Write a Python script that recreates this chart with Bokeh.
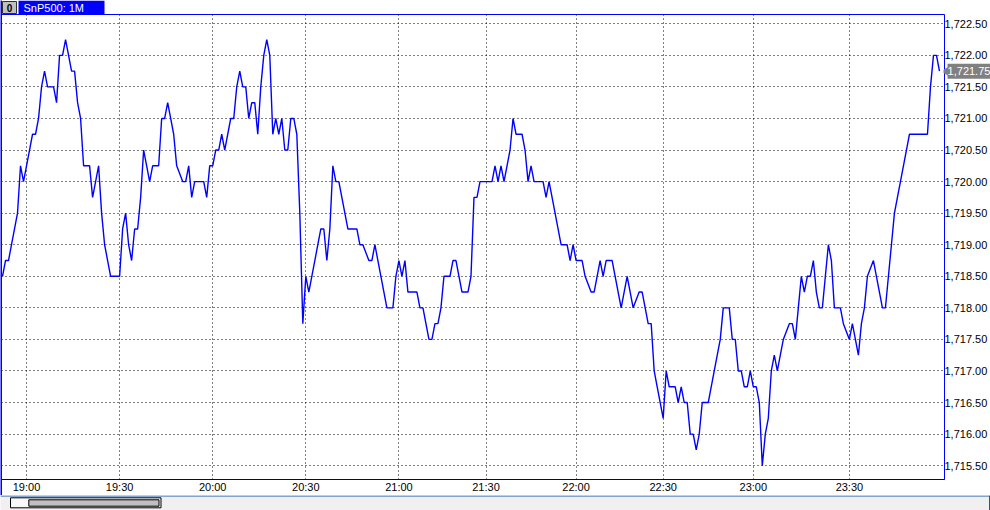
from bokeh.plotting import figure
from bokeh.models import FixedTicker, NumeralTickFormatter, Range1d
from bokeh.embed import file_html
from bokeh.resources import INLINE
from bokeh.core.properties import value

# ---------------- data (1-minute closes, bar index -> price) ----------------
bars = [
    0, 1, 2, 3, 4, 5, 6, 7, 8, 9,
    10, 11, 12, 13, 14, 15, 17, 18, 19, 20,
    21, 22, 23, 24, 25, 26, 27, 29, 30, 31,
    32, 33, 34, 35, 36, 39, 40, 41, 42, 43,
    44, 45, 46, 47, 48, 49, 50, 52, 53, 54,
    55, 56, 57, 58, 60, 61, 62, 63, 64, 67,
    68, 69, 70, 71, 72, 73, 74, 75, 76, 77,
    78, 79, 80, 81, 82, 83, 84, 85, 86, 87,
    88, 89, 90, 91, 92, 93, 94, 95, 96, 97,
    98, 99, 100, 101, 102, 103, 104, 105, 106, 107,
    108, 109, 110, 111, 112, 113, 114, 115, 118, 119,
    120, 122, 123, 124, 125, 127, 128, 130, 131, 132,
    133, 134, 135, 138, 139, 140, 141, 142, 143, 144,
    145, 146, 147, 149, 150, 151, 152, 153, 155, 156,
    157, 158, 159, 163, 164, 165, 166, 167, 168, 169,
    170, 171, 173, 174, 175, 176, 177, 180, 181, 182,
    183, 184, 185, 186, 188, 189, 190, 191, 193, 194,
    196, 197, 198, 199, 200, 201, 203, 204, 205, 206,
    207, 208, 209, 210, 212, 213, 214, 215, 216, 217,
    218, 219, 220, 221, 222, 224, 225, 226, 227, 228,
    229, 230, 231, 232, 233, 235, 237, 238, 239, 240,
    242, 243, 244, 245, 246, 247, 248, 249, 250, 251,
    252, 253, 254, 255, 256, 257, 258, 259, 260, 262,
    263, 264, 265, 266, 267, 268, 269, 270, 271, 272,
    273, 274, 275, 276, 277, 279, 280, 282, 283, 284,
    285, 286, 287, 288, 290, 291, 292, 293, 294, 295,
    296, 297, 298, 299, 300, 301, 302, 308, 309, 310,
    311, 312,
]
closes = [
    1718.5, 1718.75, 1718.75, 1719.0, 1719.25, 1719.5, 1720.25, 1720.0, 1720.25, 1720.5,
    1720.75, 1720.75, 1721.0, 1721.5, 1721.75, 1721.5, 1721.5, 1721.25, 1722.0, 1722.0,
    1722.25, 1722.0, 1721.75, 1721.75, 1721.25, 1721.0, 1720.25, 1720.25, 1719.75, 1720.0,
    1720.25, 1719.5, 1719.0, 1718.75, 1718.5, 1718.5, 1719.25, 1719.5, 1719.0, 1718.75,
    1719.25, 1719.25, 1719.75, 1720.5, 1720.25, 1720.0, 1720.25, 1720.25, 1721.0, 1721.0,
    1721.25, 1721.0, 1720.75, 1720.25, 1720.0, 1720.0, 1720.25, 1719.75, 1720.0, 1720.0,
    1719.75, 1720.25, 1720.25, 1720.5, 1720.5, 1720.75, 1720.5, 1720.75, 1721.0, 1721.0,
    1721.5, 1721.75, 1721.5, 1721.5, 1721.0, 1721.25, 1721.25, 1720.75, 1721.5, 1722.0,
    1722.25, 1722.0, 1720.75, 1721.0, 1720.75, 1721.0, 1720.5, 1720.5, 1721.0, 1721.0,
    1720.75, 1719.5, 1717.75, 1718.5, 1718.25, 1718.5, 1718.75, 1719.0, 1719.25, 1719.25,
    1718.75, 1719.25, 1720.25, 1720.0, 1720.0, 1719.75, 1719.5, 1719.25, 1719.25, 1719.0,
    1719.0, 1718.75, 1718.75, 1719.0, 1718.75, 1718.25, 1718.0, 1718.0, 1718.5, 1718.75,
    1718.5, 1718.75, 1718.25, 1718.25, 1718.0, 1718.0, 1717.75, 1717.5, 1717.5, 1717.75,
    1717.75, 1718.0, 1718.5, 1718.5, 1718.75, 1718.75, 1718.5, 1718.25, 1718.25, 1718.5,
    1719.75, 1719.75, 1720.0, 1720.0, 1720.25, 1720.0, 1720.25, 1720.0, 1720.25, 1720.5,
    1721.0, 1720.75, 1720.75, 1720.5, 1720.0, 1720.25, 1720.0, 1720.0, 1719.75, 1720.0,
    1719.75, 1719.5, 1719.25, 1719.0, 1719.0, 1718.75, 1719.0, 1718.75, 1718.75, 1718.5,
    1718.25, 1718.25, 1718.5, 1718.75, 1718.5, 1718.75, 1718.75, 1718.5, 1718.25, 1718.0,
    1718.25, 1718.5, 1718.25, 1718.0, 1718.25, 1718.25, 1718.0, 1717.75, 1717.75, 1717.0,
    1716.75, 1716.5, 1716.25, 1717.0, 1716.75, 1716.75, 1716.5, 1716.75, 1716.5, 1716.5,
    1716.0, 1716.0, 1715.75, 1716.0, 1716.5, 1716.5, 1717.0, 1717.25, 1717.5, 1718.0,
    1718.0, 1717.5, 1717.5, 1717.0, 1717.0, 1716.75, 1716.75, 1717.0, 1716.75, 1716.75,
    1716.5, 1715.5, 1716.0, 1716.25, 1717.0, 1717.25, 1717.0, 1717.25, 1717.5, 1717.75,
    1717.75, 1717.5, 1718.0, 1718.5, 1718.25, 1718.5, 1718.5, 1718.75, 1718.25, 1718.0,
    1718.0, 1718.5, 1719.0, 1718.75, 1718.0, 1718.0, 1717.75, 1717.5, 1717.75, 1717.5,
    1717.25, 1717.75, 1718.0, 1718.5, 1718.75, 1718.5, 1718.25, 1718.0, 1718.0, 1718.5,
    1719.0, 1719.5, 1719.75, 1720.0, 1720.25, 1720.5, 1720.75, 1720.75, 1721.5, 1722.0,
    1722.0, 1721.75,
]
tick_bars = [8, 39, 70, 101, 132, 161, 191, 220, 250, 282]
tick_labels = ["19:00", "19:30", "20:00", "20:30", "21:00",
               "21:30", "22:00", "22:30", "23:00", "23:30"]
price_ticks = [1715.5, 1716.0, 1716.5, 1717.0, 1717.5, 1718.0, 1718.5,
               1719.0, 1719.5, 1720.0, 1720.5, 1721.0, 1721.5, 1722.0, 1722.5]
chart_title = "SnP500: 1M"
window_id = "0"

W = 990
FONT = "Liberation Sans"
BLUE = "#0000ff"


def place(fig, left, top):
    fig.styles = {"position": "absolute", "left": f"{left}px", "top": f"{top}px"}


def strip(width, height):
    f = figure(width=width, height=height, x_range=Range1d(0, width), y_range=Range1d(height, 0),
               x_axis_type=None, y_axis_type=None, output_backend="svg",
               toolbar_location=None, min_border=0)
    f.grid.visible = False
    f.outline_line_color = None
    return f


# ---------------- top tab strip ----------------
top = strip(W, 14)
top.quad(left=[2], right=[16], top=[1], bottom=[13], fill_color="#c0c0c0", line_color="#303030")
top.text(x=[9], y=[7.5], text=[window_id], text_color="black", text_font=value(FONT),
         text_font_size="10px", text_font_style="bold", text_align="center", text_baseline="middle")
top.quad(left=[18], right=[104], top=[0], bottom=[14], fill_color=BLUE, line_color=None)
top.text(x=[23], y=[7.5], text=[chart_title], text_color="white", text_font=value(FONT),
         text_font_size="11px", text_baseline="middle")
place(top, 0, 0)

# ---------------- main chart ----------------
p = figure(width=W, height=481,
           x_range=Range1d(-0.333, 313.67), y_range=Range1d(1715.281, 1722.647),
           output_backend="svg", toolbar_location=None,
           min_border_left=1, min_border_right=46, min_border_top=0, min_border_bottom=14,
           y_axis_location="right")
p.background_fill_color = "white"
p.border_fill_color = "white"
p.outline_line_color = BLUE
p.outline_line_width = 1

p.xaxis.ticker = FixedTicker(ticks=tick_bars)
p.xaxis.major_label_overrides = {b: lab for b, lab in zip(tick_bars, tick_labels)}
p.yaxis.ticker = FixedTicker(ticks=price_ticks)
p.yaxis.formatter = NumeralTickFormatter(format="0,0.00")

for ax in (p.xaxis, p.yaxis):
    ax.major_tick_line_color = None
    ax.minor_tick_line_color = None
    ax.major_tick_out = 0
    ax.major_tick_in = 0
    ax.minor_tick_out = 0
    ax.major_label_text_font = FONT
    ax.major_label_text_font_size = "11px"
    ax.major_label_text_color = "black"
p.xaxis.axis_line_color = "#000080"
p.xaxis.axis_line_width = 1
p.xaxis.major_label_standoff = 1
p.yaxis.axis_line_color = None
p.yaxis.major_label_standoff = 0

p.grid.grid_line_color = "black"
p.grid.grid_line_dash = "1 3"
p.grid.grid_line_width = 1

p.line(bars, closes, line_color=BLUE, line_width=1.4)
place(p, 0, 14)

# ---------------- bottom scrollbar strip ----------------
bot = strip(W, 15)
bot.background_fill_color = "#f0f0f0"
bot.border_fill_color = "#f0f0f0"
bot.quad(left=[0], right=[W], top=[0], bottom=[1], fill_color="#1c5aa8", line_color=None)
bot.quad(left=[988.5], right=[W], top=[0], bottom=[15], fill_color="#1c5aa8", line_color=None)
bot.quad(left=[10], right=[160.5], top=[2.3], bottom=[12.3], fill_color="#f8f8f8", line_color="black")
bot.quad(left=[28.3], right=[158.5], top=[4.3], bottom=[10.7], fill_color="#c0c0c0", line_color="black")
place(bot, 0, 495)

# ---------------- left window edge ----------------
edge = strip(2, 495)
edge.background_fill_color = BLUE
edge.border_fill_color = BLUE
place(edge, 0, 0)

# ---------------- last-price tag (overlay sharing the price scale) ----------------
tag = figure(width=47, height=467, x_range=Range1d(0, 47), y_range=p.y_range,
             x_axis_type=None, y_axis_type=None, output_backend="svg",
             toolbar_location=None, min_border=0)
tag.grid.visible = False
tag.outline_line_color = None
tag.background_fill_color = None
tag.border_fill_color = None
tag.rect(x=[25.5], y=[closes[-1]], width=43, height=15, width_units="screen",
         height_units="screen", fill_color="#808080", line_color=None)
tag.scatter(x=[3.5], y=[closes[-1]], marker="triangle", size=11, angle=1.5708,
            fill_color="#808080", line_color=None)
tag.text(x=[25.5], y=[closes[-1]], text=[f"{closes[-1]:,.2f}"], text_color="white",
         text_font=value(FONT), text_font_size="11px", text_align="center",
         text_baseline="middle")
place(tag, 943, 14)

open("out.html", "w").write(file_html([top, p, bot, edge, tag], INLINE, "SnP500"))
